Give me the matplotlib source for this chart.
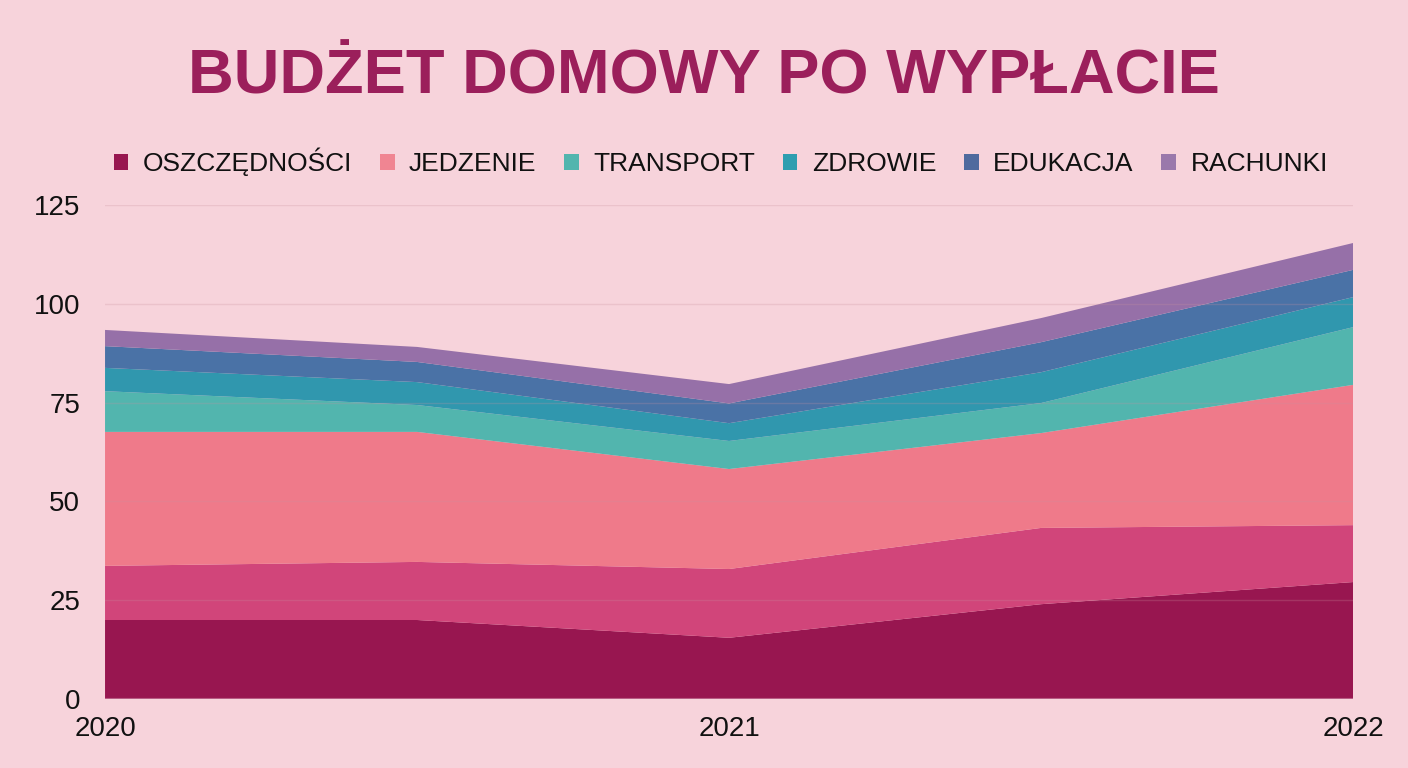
import matplotlib.pyplot as plt
from matplotlib.patches import Patch

# data
years = [2020, 2020.5, 2021, 2021.5, 2022]
oszczednosci = [20.0, 20.0, 15.5, 24.0, 29.6]
inne = [13.7, 14.7, 17.4, 19.3, 14.4]
jedzenie = [33.9, 32.9, 25.3, 24.0, 35.5]
transport = [10.3, 6.8, 7.1, 7.6, 14.6]
zdrowie = [5.9, 5.8, 4.5, 7.8, 7.6]
edukacja = [5.5, 5.1, 5.0, 7.6, 6.9]
rachunki = [4.1, 3.8, 4.9, 6.1, 6.8]

legend_labels = ['OSZCZĘDNOŚCI', 'JEDZENIE', 'TRANSPORT', 'ZDROWIE', 'EDUKACJA', 'RACHUNKI']
area_colors = ['#981650', '#D1457A', '#EF7A8A', '#52B5AE', '#3097AE', '#4A72A6', '#9670A8']
legend_colors = ['#981650', '#F08592', '#52B5AE', '#2E9EB0', '#4F6A9E', '#9A78AB']

bg = '#F7D3DB'
plt.rcParams['font.family'] = ['Liberation Sans', 'DejaVu Sans']

fig = plt.figure(figsize=(14.08, 7.68), dpi=100, facecolor=bg)
ax = fig.add_axes([0.0746, 0.0898, 0.8864, 0.6432])
ax.set_facecolor(bg)

ax.stackplot(years, oszczednosci, inne, jedzenie, transport, zdrowie, edukacja, rachunki,
             colors=area_colors, linewidth=0, zorder=1)

ax.set_xlim(2020, 2022)
ax.set_ylim(0, 125)
ax.set_yticks([0, 25, 50, 75, 100, 125])
ax.set_xticks([2020, 2021, 2022])
ax.set_xticklabels(['2020', '2021', '2022'])
ax.yaxis.grid(True, color='#C9909F', linewidth=1, alpha=0.25, zorder=2)
ax.set_axisbelow(False)
for s in ax.spines.values():
    s.set_visible(False)
ax.axhline(0, color='#B85C84', linewidth=1.5, zorder=3)
ax.tick_params(axis='both', length=0, labelsize=20, colors='#111111')
ax.tick_params(axis='y', pad=18)
ax.tick_params(axis='x', pad=12)

fig.text(0.5, 0.9, 'BUDŻET DOMOWY PO WYPŁACIE', ha='center', va='center',
         fontsize=45.5, fontweight='bold', color='#9B1F5B')

handles = [Patch(facecolor=c, edgecolor='none') for c in legend_colors]
fig.legend(handles, legend_labels, loc='center', bbox_to_anchor=(0.512, 0.789), ncol=6,
           frameon=False, fontsize=19, handlelength=0.55, handleheight=0.55,
           handletextpad=0.55, columnspacing=1.05, labelcolor='#111111')

fig.savefig('out.png', dpi=100, facecolor=bg)
